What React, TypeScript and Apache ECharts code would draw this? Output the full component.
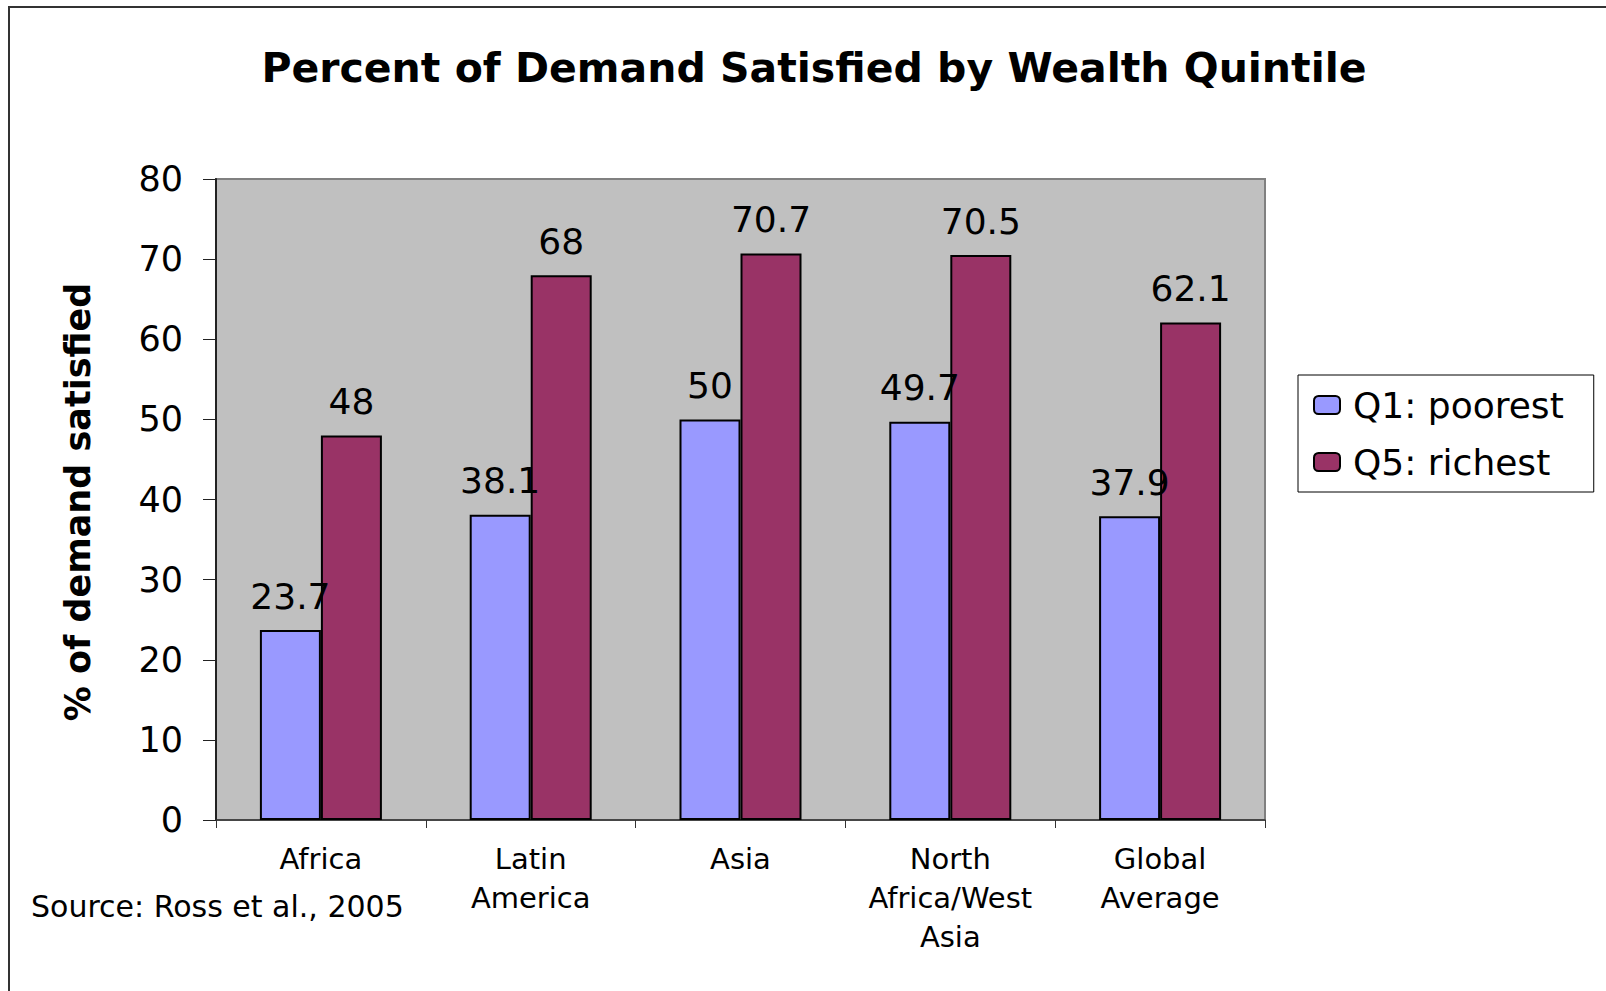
import React, { useEffect, useRef } from "react";
import * as echarts from "echarts";

const categories = ["Africa", "Latin\nAmerica", "Asia", "North\nAfrica/West\nAsia", "Global\nAverage"];
const q1Poorest = [23.7, 38.1, 50, 49.7, 37.9];
const q5Richest = [48, 68, 70.7, 70.5, 62.1];
const seriesNames = ["Q1: poorest", "Q5: richest"];
const titleText = "Percent of Demand Satisfied by Wealth Quintile";
const yAxisTitle = "% of demand satisfied";
const sourceText = "Source: Ross et al., 2005";

const FONT = "'DejaVu Sans', Verdana, sans-serif";

export default function App() {
  const ref = useRef<HTMLDivElement>(null);
  useEffect(() => {
    if (!ref.current) return;
    const chart = echarts.init(ref.current, undefined, { renderer: "svg" });
    const labelCfg = {
      show: true,
      position: "top" as const,
      distance: 16,
      fontSize: 36,
      color: "#000",
      fontFamily: FONT,
    };
    chart.setOption({
      animation: false,
      backgroundColor: "#fff",
      textStyle: { fontFamily: FONT },
      title: {
        text: titleText,
        left: 809,
        top: 42,
        textAlign: "center",
        textStyle: { fontSize: 41, fontWeight: "bold", color: "#000", fontFamily: FONT },
      },
      legend: {
        orient: "vertical",
        left: 1298,
        top: 375,
        padding: [12, 30, 12, 15],
        itemGap: 21,
        itemWidth: 26,
        itemHeight: 18,
        borderColor: "#000",
        borderWidth: 1,
        backgroundColor: "#fff",
        textStyle: { fontSize: 36, color: "#000", fontFamily: FONT, padding: [0, 0, 0, 8] },
        data: seriesNames,
      },
      grid: {
        left: 216,
        top: 179,
        right: 341,
        bottom: 171,
        show: true,
        backgroundColor: "#C0C0C0",
        borderColor: "#808080",
        borderWidth: 2,
      },
      xAxis: {
        type: "category",
        data: categories,
        axisLine: { show: true, lineStyle: { color: "#333", width: 1.5 } },
        axisTick: { show: true, length: 8, lineStyle: { color: "#333" } },
        axisLabel: {
          fontSize: 29,
          lineHeight: 39,
          color: "#000",
          margin: 19,
          interval: 0,
          fontFamily: FONT,
        },
      },
      yAxis: {
        type: "value",
        min: 0,
        max: 80,
        interval: 10,
        axisLine: { show: true, lineStyle: { color: "#222", width: 2 } },
        axisTick: { show: true, inside: false, length: 13, lineStyle: { color: "#222" } },
        axisLabel: { fontSize: 35, color: "#000", margin: 33, fontFamily: FONT },
        splitLine: { show: false },
      },
      series: [
        {
          name: seriesNames[0],
          type: "bar",
          data: q1Poorest,
          barWidth: 61,
          barGap: "0%",
          itemStyle: { color: "#9999FF", borderColor: "#000", borderWidth: 2 },
          label: labelCfg,
        },
        {
          name: seriesNames[1],
          type: "bar",
          data: q5Richest,
          barWidth: 61,
          barGap: "0%",
          itemStyle: { color: "#993366", borderColor: "#000", borderWidth: 2 },
          label: labelCfg,
        },
      ],
      graphic: [
        {
          type: "rect",
          shape: { x: 9, y: 7, width: 1700, height: 1100 },
          style: { fill: "none", stroke: "#333", lineWidth: 2 },
          silent: true,
        },
        {
          type: "text",
          x: 78,
          y: 502,
          rotation: Math.PI / 2,
          style: {
            text: yAxisTitle,
            fontSize: 35,
            fontWeight: "bold",
            fill: "#000",
            fontFamily: FONT,
            align: "center",
            verticalAlign: "middle",
          },
        },
        {
          type: "text",
          x: 31,
          y: 906,
          style: {
            text: sourceText,
            fontSize: 30,
            fill: "#000",
            fontFamily: FONT,
            align: "left",
            verticalAlign: "middle",
          },
        },
      ],
    });
    return () => chart.dispose();
  }, []);
  return (
    <div
      ref={ref}
      style={{ position: "fixed", left: 0, top: 0, width: 1606, height: 991 }}
    />
  );
}
